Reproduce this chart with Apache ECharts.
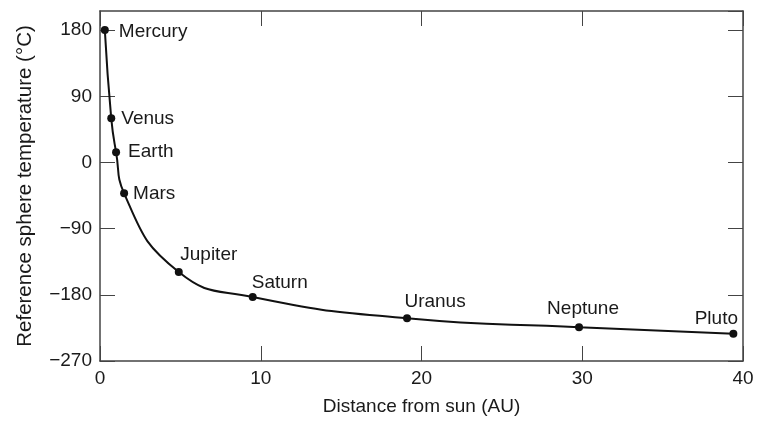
<!DOCTYPE html>
<html>
<head>
<meta charset="utf-8">
<script src="https://cdn.jsdelivr.net/npm/echarts@6/dist/echarts.min.js"></script>
<style>
  html, body { margin: 0; padding: 0; background: #fff; }
  #chart { width: 759px; height: 421px; }
</style>
</head>
<body>
<div id="chart"></div>
<script>
const planets = ["Mercury", "Venus", "Earth", "Mars", "Jupiter", "Saturn", "Uranus", "Neptune", "Pluto"];
const distanceAU = [0.3, 0.7, 1.0, 1.5, 4.9, 9.5, 19.1, 29.8, 39.4];
const temperatureC = [180, 60, 14, -42, -149, -183, -212, -224, -233];
const xTicks = [0, 10, 20, 30, 40];
const yTicks = [-270, -180, -90, 0, 90, 180];

// where each planet name sits relative to its dot
const labelSpots = [
  { position: "right", distance: 10, offset: [0, 2] },
  { position: "right", distance: 6, offset: [0, 0] },
  { position: "right", distance: 8, offset: [0, 0] },
  { position: "right", distance: 5, offset: [0, 0] },
  { position: "inside", offset: [30, -17] },
  { position: "inside", offset: [27, -14] },
  { position: "inside", offset: [28, -17] },
  { position: "inside", offset: [4, -18] },
  { position: "inside", offset: [-17, -15] },
];

const font = "Liberation Sans, Arial, Helvetica, sans-serif";
const ink = "#1a1a1a";

let chart = echarts.init(document.getElementById("chart"));

let points = planets.map((name, i) => {
  return {
    name: name,
    value: [distanceAU[i], temperatureC[i]],
    label: Object.assign({ show: true, formatter: name }, labelSpots[i]),
  };
});

const tick = { show: true, inside: true, length: 15, lineStyle: { color: "#444", width: 1 } };
const line = { show: true, onZero: false, lineStyle: { color: "#444", width: 1.5 } };

let option = {
  animation: false,
  textStyle: { fontFamily: font },
  grid: { left: 100, right: 16, top: 11, bottom: 60 },
  xAxis: [
    {
      type: "value",
      min: xTicks[0],
      max: xTicks[xTicks.length - 1],
      interval: xTicks[1] - xTicks[0],
      name: "Distance from sun (AU)",
      nameLocation: "middle",
      nameGap: 36,
      nameTextStyle: { color: ink, fontSize: 19, fontFamily: font },
      axisLine: line,
      axisTick: tick,
      splitLine: { show: false },
      axisLabel: { color: ink, fontSize: 19, margin: 8, fontFamily: font },
    },
    {
      type: "value",
      position: "top",
      min: xTicks[0],
      max: xTicks[xTicks.length - 1],
      interval: xTicks[1] - xTicks[0],
      axisLine: line,
      axisTick: tick,
      splitLine: { show: false },
      axisLabel: { show: false },
    },
  ],
  yAxis: [
    {
      type: "value",
      min: yTicks[0],
      max: 206,
      interval: yTicks[1] - yTicks[0],
      name: "Reference sphere temperature (°C)",
      nameLocation: "middle",
      nameGap: 64,
      nameTextStyle: { color: ink, fontSize: 20.5, fontFamily: font },
      axisLine: line,
      axisTick: tick,
      splitLine: { show: false },
      axisLabel: {
        color: ink,
        fontSize: 19,
        margin: 8,
        fontFamily: font,
        showMaxLabel: false,
        formatter: (v) => (v < 0 ? "\u2212" + Math.abs(v) : String(v)),
      },
    },
    {
      type: "value",
      position: "right",
      min: yTicks[0],
      max: 206,
      interval: yTicks[1] - yTicks[0],
      axisLine: line,
      axisTick: tick,
      splitLine: { show: false },
      axisLabel: { show: false },
    },
  ],
  series: [
    {
      type: "line",
      data: points,
      smooth: 0.5,
      symbol: "circle",
      symbolSize: 8,
      itemStyle: { color: "#111" },
      lineStyle: { color: "#111", width: 2 },
      label: { color: ink, fontSize: 19, fontFamily: font },
    },
  ],
};

chart.setOption(option);
</script>
</body>
</html>
